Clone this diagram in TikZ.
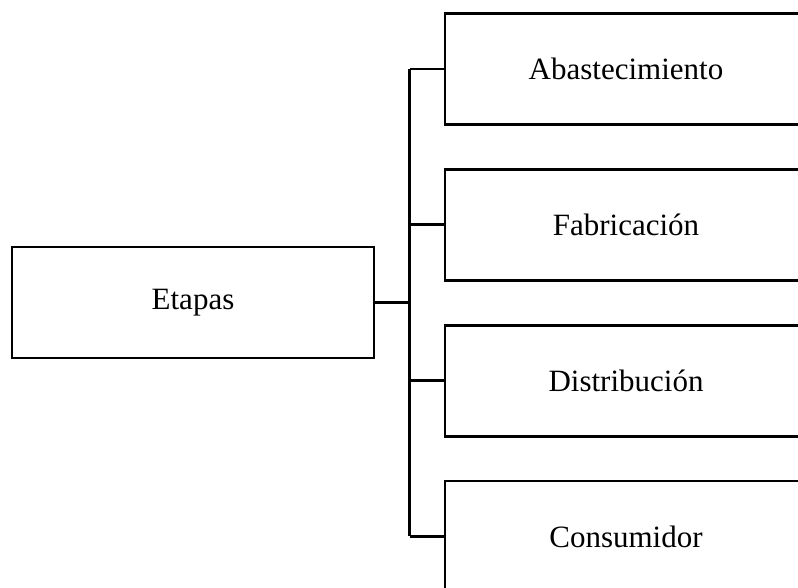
\documentclass[tikz,border=0pt]{standalone}
\usepackage{fontspec}
\setmainfont{Liberation Serif}
\usetikzlibrary{positioning, calc}

\begin{document}
\begin{tikzpicture}[
        x=1pt, y=-1pt,
        stagebox/.style={draw, line width=2.8pt, minimum width=362pt, minimum height=111pt, inner sep=0pt, font=\fontsize{31}{37}\selectfont},
        link/.style={line width=2.8pt},
        node distance=42pt
      ]
        \useasboundingbox (0,0) rectangle (798,587);
        \clip (0,0) rectangle (798,587);
        \node[stagebox] (etapas) at (193,302.5) {Etapas};
        \node[stagebox] (abast) at (626,69) {Abastecimiento};
        \node[stagebox, below=of abast] (fabric) {Fabricación};
        \node[stagebox, below=of fabric] (distrib) {Distribución};
        \node[stagebox, below=of distrib] (consum) {Consumidor};
        % spine between the two columns
        \coordinate (spine) at ($(etapas.east)!0.5!(etapas.east -| abast.west)$);
        \draw[link] (etapas.east) -- (spine);
        \draw[link] (spine |- abast.west) -- (spine |- consum.west);
        \foreach \n in {abast, fabric, distrib, consum}
          \draw[link] (spine |- \n.west) -- (\n.west);
      \end{tikzpicture}
\end{document}
